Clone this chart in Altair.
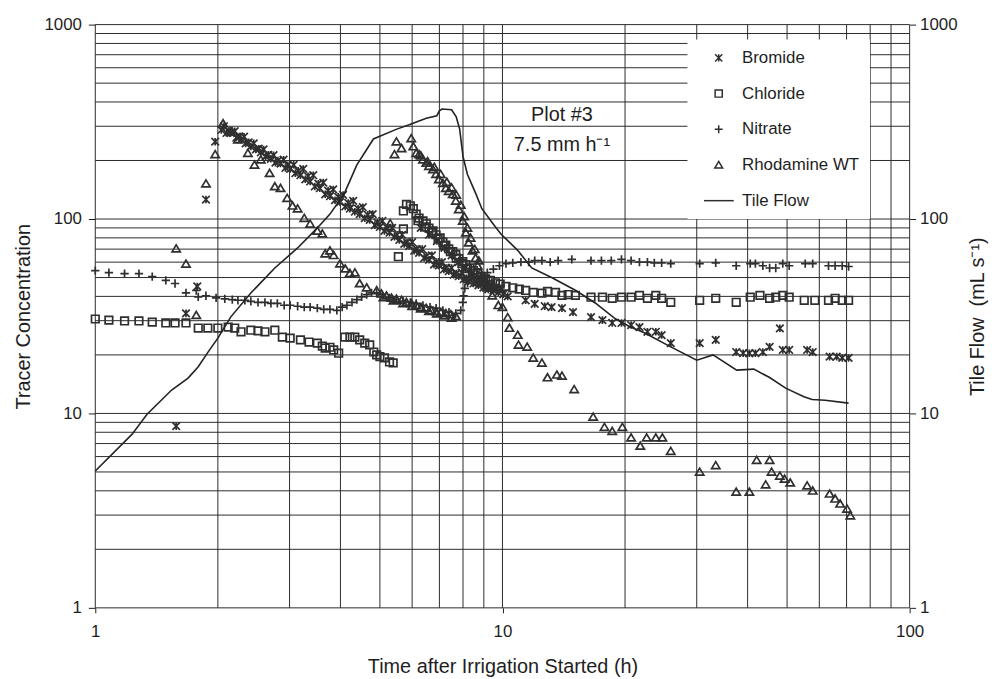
import altair as alt
import pandas as pd

FONT = "Liberation Sans"
INK = "#1e1e1e"
MARK = "#2f2f2f"

# ---------------- data ----------------
bromide_t = [1.58, 1.67, 1.78, 1.87, 1.97,
             2.04, 2.10, 2.15, 2.22, 2.28, 2.34, 2.41, 2.48, 2.55, 2.62, 2.70, 2.77, 2.85, 2.93, 3.01,
             3.10, 3.19, 3.28, 3.37, 3.46, 3.56, 3.67, 3.77, 3.88, 3.99, 4.11, 4.22, 4.34, 4.46, 4.59,
             4.72, 4.86, 5.00, 5.13, 5.28, 5.43, 5.58, 5.74, 5.90, 6.07, 6.24, 6.42, 6.60, 6.79, 6.98,
             7.18, 7.38, 7.59, 7.81, 8.03, 8.26, 8.49, 8.73, 8.98, 9.23, 9.50, 9.77, 10.05, 10.3,
             2.07, 2.20, 2.32, 2.45, 2.59, 2.74, 2.90, 3.07, 3.24, 3.43, 3.63, 3.84, 4.06, 4.30, 4.54,
             4.80, 5.07, 5.36, 5.67, 6.00, 6.35, 6.71, 7.10, 7.50, 7.94, 8.40, 8.88, 9.39, 9.92,
             2.13, 2.26, 2.38, 2.52, 2.66, 2.81, 2.97, 3.15, 3.33, 3.53, 3.73, 3.95, 4.18, 4.42, 4.67,
             4.93, 5.21, 5.51, 5.83, 6.16, 6.52, 6.89, 7.28, 7.70, 8.15, 8.62, 9.11, 9.64,
             6.3, 6.6, 6.9, 7.2, 7.5, 7.8, 8.1, 8.4, 8.7, 9.0, 9.3, 9.6, 9.9,
             11.4, 12.0, 12.7, 13.2, 14.0, 14.9, 16.5, 17.6, 18.6, 19.6, 20.7, 21.7, 22.7, 23.8, 24.6,
             25.9, 30.5, 33.4, 37.5, 39.0, 40.4, 41.8, 43.6, 45.3, 48.0, 48.8, 50.6, 56.0, 57.8, 63.6,
             66.2, 68.3, 70.8]
bromide_c = [8.6, 32.7, 45.0, 126, 250,
             287, 277, 277, 262, 256, 245, 236, 228, 220, 210, 204, 195, 193, 183, 181,
             172, 168, 160, 156, 147, 144, 134, 131, 125, 122, 116, 113, 109, 106, 101,
             99, 93, 91, 86.9, 85, 81, 78, 74.5, 72.6, 68.7, 67, 63, 61.7, 58.3, 57.7,
             55, 53.9, 51.7, 50.8, 49, 47.8, 46.6, 45.6, 44.4, 43.4, 42.9, 41.9, 41, 40,
             300, 283, 265, 245, 228, 213, 202, 190, 181, 168, 154, 142, 133, 124, 115,
             106, 97.7, 90, 83, 76, 70, 65, 60, 56, 53, 50, 47.8, 45.6, 44,
             284, 266, 248, 230, 214, 200, 189, 177, 166, 152, 140, 130, 121, 113, 105,
             96, 90, 83, 76, 70, 64.5, 60, 56, 52.5, 49.5, 47, 45, 43.5,
             90, 83, 77, 71, 65, 60, 56, 52, 49, 47, 45.5, 44.5, 43.5,
             38.2, 36.6, 35.6, 35.2, 34.8, 33.2, 31.3, 30.2, 29.2, 29.2, 28.5, 27.8, 26.3, 26.3, 25.3,
             23.0, 23.0, 23.9, 20.7, 20.4, 20.4, 20.4, 20.7, 22.0, 27.4, 21.2, 21.2, 21.2, 20.7, 19.6,
             19.6, 19.3, 19.3]

chloride_t = [1.0, 1.08, 1.18, 1.28, 1.38, 1.49, 1.57, 1.67, 1.79, 1.89, 2.0, 2.12, 2.20, 2.28, 2.41,
              2.51, 2.61, 2.76, 2.88, 3.01, 3.19, 3.35, 3.51, 3.61, 3.67, 3.77, 3.85, 3.96,
              4.10, 4.22, 4.34, 4.46, 4.59, 4.72, 4.83, 4.91, 5.00, 5.13, 5.28, 5.39,
              5.55, 5.71, 5.71, 5.81, 5.94, 6.04, 6.14, 6.24, 6.38, 6.50, 6.60, 6.75, 6.87, 7.03, 7.14,
              7.26, 7.38, 7.55, 7.68, 7.81, 7.99, 8.13, 8.31, 8.49, 8.69, 8.88, 9.09, 9.34, 9.61, 9.87,
              10.2, 10.6, 11.0, 11.4, 11.9, 12.5, 12.9, 13.5, 14.0, 14.5, 15.1, 16.5, 17.6, 18.6, 19.6,
              20.7, 21.7, 22.7, 23.8, 24.6, 25.9, 30.5, 33.4, 37.5, 40.6, 42.9, 45.3, 46.9, 48.8, 50.6,
              55.1, 58.5, 63.2, 65.6, 68.3, 70.8,
              6.2, 6.45, 6.7, 6.95, 7.2, 7.45, 7.7, 7.95, 8.2, 8.45, 8.7, 9.0, 9.3]
chloride_c = [30.6, 30.2, 29.9, 29.9, 29.5, 29.2, 29.2, 29.2, 27.5, 27.5, 27.5, 27.8, 27.5, 26.3, 26.8,
              26.6, 26.3, 26.8, 24.7, 24.4, 23.9, 23.3, 23.0, 22.2, 21.7, 21.9, 21.2, 20.4,
              24.7, 24.7, 24.7, 23.9, 23.0, 22.5, 20.7, 20.0, 19.6, 19.3, 18.4, 18.2,
              64, 89, 110, 119, 117, 113, 106, 101, 97.7, 94.5, 89.8, 86.9, 83, 80, 76,
              73.5, 70.2, 67.9, 65.5, 62.6, 60.4, 58.3, 56, 54.3, 52.7, 50.6, 49.2, 48.3, 47, 46.2,
              45, 44.3, 43.6, 42.9, 41.9, 41.6, 42.4, 41.9, 40.5, 40.9, 40.5, 39.6, 39.6, 39.1, 39.6,
              39.6, 40.5, 39.1, 40.5, 39.1, 37.3, 38.2, 39.1, 37.3, 39.6, 40.5, 39.1, 39.6, 40.5, 39.6,
              38.2, 38.2, 38.2, 39.1, 38.2, 38.2,
              98, 91, 85, 79, 73, 68, 63, 59, 55.5, 52.5, 50, 47.5, 46]

nitrate_t = [1.0, 1.08, 1.18, 1.28, 1.38, 1.49, 1.57, 1.67, 1.77, 1.79, 1.87, 1.98, 2.08, 2.17, 2.24,
             2.33, 2.41, 2.51, 2.61, 2.70, 2.80, 2.91, 3.01, 3.14, 3.26, 3.37, 3.51, 3.64, 3.77, 3.92,
             4.04, 4.15, 4.27, 4.39, 4.51, 4.64, 4.77, 4.91, 5.07, 5.28, 5.49, 5.71, 5.94, 6.14, 6.38,
             6.64, 6.87, 7.14, 7.39, 7.68, 7.90, 7.99, 8.03, 8.08, 8.21, 8.49, 8.83, 9.18, 9.50, 9.83,
             10.2, 10.6, 11.1, 11.6, 12.0, 12.5, 13.1, 13.7, 14.8, 16.5, 17.5, 18.5, 19.6, 20.7, 21.7,
             22.7, 23.6, 24.6, 25.9, 30.5, 33.4, 37.5, 40.6, 41.8, 43.6, 45.3, 46.9, 48.8, 50.6, 55.4,
             57.8, 63.2, 65.6, 68.3, 70.8]
nitrate_c = [54.3, 53, 52.4, 52.4, 50.6, 48.3, 46.6, 41.7, 42.9, 39.8, 40.3, 39.3, 38.8, 38.5, 38.2,
             38.2, 37.7, 37.3, 37.3, 36.8, 36.8, 36, 36, 35.6, 35.2, 35.2, 34.8, 34.3, 34.3, 33.9,
             35.2, 36, 37.3, 38.5, 39.8, 40.8, 41.7, 41.7, 40.8, 39.3, 38.5, 37.7, 37.3, 36.8, 36,
             35.2, 34.8, 33.9, 33.2, 32.7, 33.9, 37.3, 40.3, 44, 47, 49.2, 51, 53, 55.3, 57.5,
             59, 59.5, 60, 60, 61.1, 61.1, 60, 61.1, 62, 61.1, 61.1, 61.1, 62, 61.1, 60,
             60, 59.5, 59.5, 59, 59, 59.5, 57.5, 59, 59, 57.5, 56, 56, 59, 57.5, 59,
             59, 57.5, 57.5, 57.5, 57]

rhodamine_t = [1.58, 1.67, 1.77, 1.87, 1.97, 2.06,
               2.15, 2.24, 2.37, 2.46, 2.55, 2.68, 2.76, 2.85, 2.96, 3.05, 3.14, 3.26, 3.37, 3.51, 3.61,
               3.67, 3.77, 3.85, 3.99, 4.11, 4.22, 4.34, 4.46, 4.64, 4.91,
               5.04, 5.19, 5.34, 5.49, 5.65, 5.81, 5.97, 6.14, 6.31, 6.50, 6.68, 6.87, 7.06, 7.26, 7.47,
               7.68, 5.30,
               5.43, 5.49, 5.65, 5.97, 6.04, 6.14, 6.24, 6.38, 6.50, 6.60, 6.75, 6.87, 6.98, 7.14, 7.26,
               7.38, 7.55, 7.68, 7.81, 7.99, 8.13, 8.26, 8.44, 8.59, 8.69, 8.83, 8.98, 9.18, 9.44, 9.77,
               10.0, 10.3, 10.4, 10.9, 10.95, 11.5, 11.9, 12.5, 12.9, 13.6, 14.0, 15.0, 16.7, 17.8, 18.6,
               19.7, 20.7, 21.8, 22.6, 23.8, 24.7, 25.9, 30.5, 33.4, 37.5, 40.4, 42.1, 45.3, 44.3, 45.8,
               48.0, 49.3, 50.9, 56.0, 57.8, 63.6, 65.6, 67.5, 70.2, 71.5,
               6.3, 6.55, 6.8, 7.05, 7.3, 7.5, 7.7, 7.9, 8.05, 8.2, 8.35, 8.55, 8.75,
               5.1, 5.4, 5.7, 6.0, 6.3, 6.6, 6.9, 7.2, 7.5]
rhodamine_c = [70.4, 58.8, 32.0, 152, 215, 310,
               281, 256, 218, 190, 202, 172, 147, 144, 128, 117, 113, 101, 94.4, 86.9, 84,
               66.3, 68.7, 65.1, 58.9, 55.5, 52.6, 53, 46.6, 44.4, 42.9,
               41.3, 40.3, 39.3, 38.8, 38.2, 37.3, 36.8, 36, 35.2, 34.8, 33.9, 33.5, 33.2, 32.7, 32.3,
               31.6, 95,
               215, 250, 231, 260, 236, 218, 215, 202, 194, 187, 180, 170, 160, 153, 144,
               139, 134, 124, 112, 97.7, 85, 75.5, 68.7, 63, 57.5, 53, 48.3, 44.4, 40.3, 36,
               35.2, 31.2, 27.5, 25.3, 22.5, 22.0, 19.3, 18.2, 15.3, 15.8, 15.6, 13.3, 9.6, 8.5, 8.1,
               8.5, 7.5, 6.8, 7.5, 7.5, 7.5, 6.4, 5.0, 5.4, 3.95, 3.95, 5.75, 5.75, 4.3, 5.0,
               4.77, 4.6, 4.4, 4.25, 4.0, 3.86, 3.64, 3.43, 3.23, 2.98,
               212, 198, 185, 170, 155, 145, 133, 118, 103, 90, 80, 70, 61,
               39.5, 38.0, 36.8, 35.6, 34.6, 33.6, 32.6, 31.8, 31.0]

flow_t = [1.0, 1.23, 1.34, 1.54, 1.69, 1.79, 1.89, 2.0, 2.15, 2.41, 2.76, 3.14, 3.51, 3.77, 4.08,
          4.39, 4.82, 5.5, 5.9, 6.5, 6.9, 7.0, 7.1, 7.5, 7.7, 7.85, 8.0, 8.2, 8.6, 8.9, 9.5, 9.9,
          10.9, 11.8, 13.2, 15.1, 16.9, 18.8, 20.5, 22.3, 25.9, 30.0, 32.9, 37.6, 41.4, 45.3, 49.6,
          55.0, 57.6, 62.0, 70.8]
flow_c = [5.06, 7.8, 9.9, 13.2, 15.2, 17.4, 20.6, 24.4, 31.3, 41.6, 56, 71, 90, 106, 134,
          190, 258, 290, 305, 330, 340, 360, 368, 365, 335, 290, 210, 170, 135, 113, 94, 84,
          69, 56, 50, 43, 37, 31, 28, 26, 22, 18.8, 20, 16.7, 16.9, 15.3, 13.5,
          12.2, 11.8, 11.7, 11.3]

series_names = ["Bromide", "Chloride", "Nitrate", "Rhodamine WT", "Tile Flow"]
series_shapes = [
    "M-1,-1L1,1M-1,1L1,-1M0,-1L0,1",   # asterisk
    "M-1,-1L1,-1L1,1L-1,1Z",           # open square
    "M-1.1,0L1.1,0M0,-1.1L0,1.1",      # plus
    "M0,-1L1.1,0.85L-1.1,0.85Z",       # open triangle
    "M-4.1,0L4.2,0",                   # line (legend only)
]

grid_x = [1, 2, 3, 4, 5, 6, 7, 8, 9, 10, 20, 30, 40, 50, 60, 70, 80, 90, 100]
grid_y = [1, 2, 3, 4, 5, 6, 7, 8, 9, 10, 20, 30, 40, 50, 60, 70, 80, 90,
          100, 200, 300, 400, 500, 600, 700, 800, 900, 1000]
x_ticks = [1, 10, 100]
y_ticks = [1, 10, 100, 1000]

notes_text = ["Plot #3", "7.5 mm h\u207b\u00b9"]
notes_t = [14.0, 14.0]
notes_c = [343, 241]

# ---------------- tables ----------------
rows = []
for name, ts, cs in [("Bromide", bromide_t, bromide_c), ("Chloride", chloride_t, chloride_c),
                     ("Nitrate", nitrate_t, nitrate_c), ("Rhodamine WT", rhodamine_t, rhodamine_c)]:
    for t, c in zip(ts, cs):
        rows.append({"series": name, "t": t, "c": c})
pts_df = pd.DataFrame(rows)
flow_df = pd.DataFrame({"t": flow_t, "c": flow_c})
gx_df = pd.DataFrame({"v": grid_x})
gy_df = pd.DataFrame({"v": grid_y})
notes_df = pd.DataFrame({"t": notes_t, "c": notes_c, "label": notes_text})

x_scale = alt.Scale(type="log", domain=[1, 100], nice=False)
y_scale = alt.Scale(type="log", domain=[1, 1000], nice=False)
y2_scale = alt.Scale(type="log", domain=[1, 1000], nice=False)

x_axis = alt.Axis(
    values=x_ticks, format="d", grid=False, domain=False, tickSize=5, tickColor=INK,
    labelFontSize=17, labelPadding=11, labelFlush=False, labelColor=INK,
    title="Time after Irrigation Started (h)", titleFontSize=20, titlePadding=17,
    titleFontWeight="normal", titleColor=INK)
y_axis = alt.Axis(
    values=y_ticks, format="d", grid=False, domain=False, tickSize=7, tickColor=INK,
    labelFontSize=17, labelPadding=7, labelFlush=False, labelColor=INK,
    title="Tracer Concentration", titleFontSize=20, titlePadding=10,
    titleFontWeight="normal", titleColor=INK)
y2_axis = alt.Axis(
    orient="right", values=y_ticks, format="d", grid=False, domain=False, tickSize=6,
    tickColor=INK, labelFontSize=17, labelPadding=4, labelFlush=False, labelColor=INK,
    title="Tile Flow\u00a0\u00a0(mL s\u207b\u00b9)", titleFontSize=20, titleAngle=270,
    titlePadding=31, titleFontWeight="normal", titleColor=INK)

grid_xr = alt.Chart(gx_df).mark_rule(color="#2a2a2a", strokeWidth=1).encode(
    x=alt.X("v:Q", scale=x_scale, axis=x_axis))
grid_yr = alt.Chart(gy_df).mark_rule(color="#2a2a2a", strokeWidth=1).encode(
    y=alt.Y("v:Q", scale=y_scale, axis=y_axis))

points = alt.Chart(pts_df).mark_point(
    filled=False, size=58, strokeWidth=1.7, color=MARK, opacity=1
).encode(
    x=alt.X("t:Q", scale=x_scale, axis=x_axis),
    y=alt.Y("c:Q", scale=y_scale, axis=y_axis),
    shape=alt.Shape("series:N", scale=alt.Scale(domain=series_names, range=series_shapes),
                    legend=alt.Legend(
                        title=None, orient="none", legendX=597, legendY=15,
                        fillColor="white", padding=10, labelFontSize=17, labelColor=INK,
                        symbolStrokeColor=MARK, symbolStrokeWidth=1.5, symbolSize=52,
                        symbolOffset=13, labelOffset=15, rowPadding=18)),
)

notes = alt.Chart(notes_df).mark_text(fontSize=20, color=INK, font=FONT).encode(
    x=alt.X("t:Q", scale=x_scale, axis=x_axis),
    y=alt.Y("c:Q", scale=y_scale, axis=y_axis),
    text="label:N")

left = alt.layer(grid_xr, grid_yr, points, notes)

flow = alt.Chart(flow_df).mark_line(color="#222222", strokeWidth=1.6).encode(
    x=alt.X("t:Q", scale=x_scale, axis=x_axis),
    y=alt.Y("c:Q", scale=y2_scale, axis=y2_axis),
    order="t:Q")

chart = alt.layer(left, flow).resolve_scale(y="independent").properties(
    width=821, height=588,
    autosize=alt.AutoSizeParams(type="none"),
    padding={"left": 88, "top": 14, "right": 80, "bottom": 70},
).configure(font=FONT).configure_view(stroke=None).configure_axis(
    labelFont=FONT, titleFont=FONT).configure_legend(labelFont=FONT)

chart.save("out.html", embed_options={"renderer": "svg", "actions": False})
